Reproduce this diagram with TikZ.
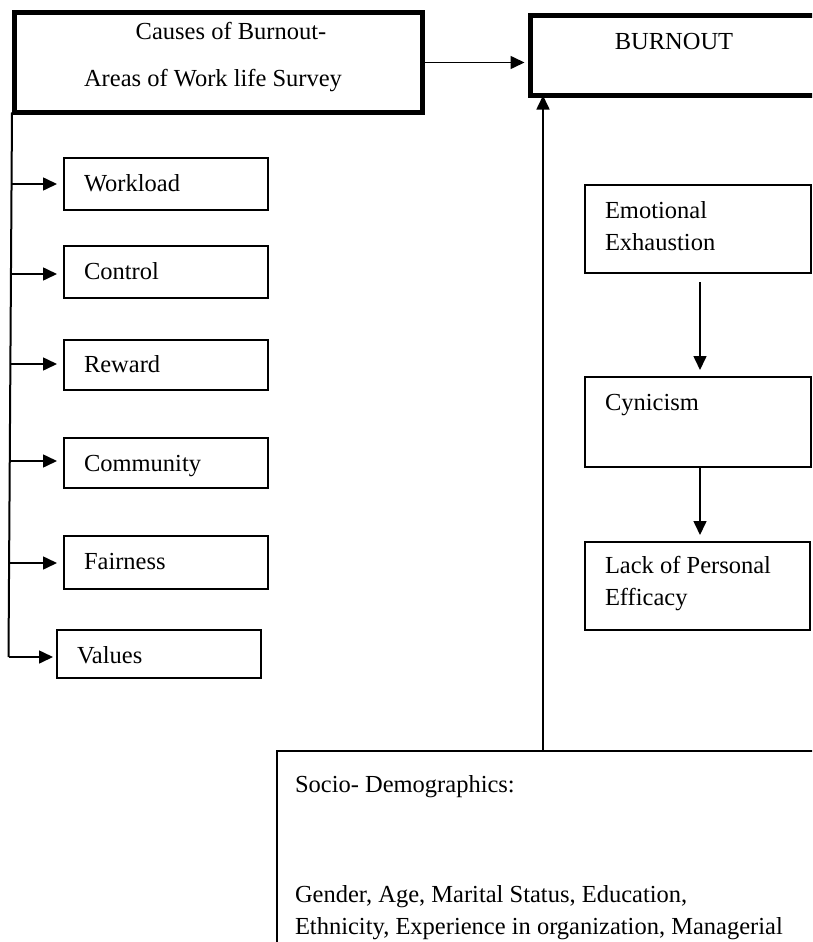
\documentclass[tikz,border=0pt]{standalone}
\usepackage{fontspec}
\setmainfont{Liberation Serif}
\usetikzlibrary{arrows.meta}
\begin{document}
\begin{tikzpicture}[x=1pt,y=-1pt,
  box/.style={draw,line width=1.5pt,anchor=north west,outer sep=0pt,inner sep=0pt},
  thickbox/.style={box,line width=5pt},
  txt/.style={inner sep=0pt,outer sep=0pt,font=\fontsize{24.5pt}{32pt}\selectfont},
  conn/.style={line width=1.6pt,-{Triangle[length=14pt,width=13pt]}},
  spine/.style={line width=2pt}]
\useasboundingbox (0,0) rectangle (812,942);
\clip (0,0) rectangle (812,942);
% top boxes
\node[thickbox,minimum width=408pt,minimum height=100pt] (tl) at (14,12.5) {};
\node[txt,anchor=base] (tl1) at (231,40) {Causes of Burnout-};
\node[txt,anchor=base] (tl2) at (213,86) {Areas of Work life Survey};
\node[thickbox,minimum width=320pt,minimum height=80pt] (bo) at (530.5,15.5) {};
\node[txt,anchor=base] (bot) at (674,50) {BURNOUT};
\draw[conn,shorten >=6pt] (tl.east) -- (tl.east -| bo.west);
% left column
\node[box,minimum width=204pt,minimum height=52pt] (wl) at (64,158) {};
\node[box,minimum width=204pt,minimum height=52pt] (co) at (64,246) {};
\node[box,minimum width=204pt,minimum height=50pt] (re) at (64,340) {};
\node[box,minimum width=204pt,minimum height=50pt] (cm) at (64,438) {};
\node[box,minimum width=204pt,minimum height=53pt] (fa) at (64,536) {};
\node[box,minimum width=204pt,minimum height=48pt] (va) at (57,630) {};
\node[txt,anchor=base west] (wlt) at (84,191) {Workload};
\node[txt,anchor=base west] (cot) at (84,279) {Control};
\node[txt,anchor=base west] (ret) at (84,372) {Reward};
\node[txt,anchor=base west] (cmt) at (84,471) {Community};
\node[txt,anchor=base west] (fat) at (84,569) {Fairness};
\node[txt,anchor=base west] (vat) at (77,663) {Values};
\coordinate (sTop) at (12,112.5);
\coordinate (sBot) at (8.5,657);
\draw[spine] (sTop) -- (sBot);
\coordinate (s1) at (11.5,184);
\coordinate (s2) at (10.8,274);
\coordinate (s3) at (10.2,364);
\coordinate (s4) at (9.4,461);
\coordinate (s5) at (8.7,563);
\draw[conn,shorten >=7pt] (s1) -- (s1 -| wl.west);
\draw[conn,shorten >=7pt] (s2) -- (s2 -| co.west);
\draw[conn,shorten >=7pt] (s3) -- (s3 -| re.west);
\draw[conn,shorten >=7pt] (s4) -- (s4 -| cm.west);
\draw[conn,shorten >=7pt] (s5) -- (s5 -| fa.west);
\draw[conn,shorten >=4pt] (sBot) -- (sBot -| va.west);
% right column
\node[box,minimum width=226pt,minimum height=88pt] (ee) at (585,185) {};
\node[box,minimum width=226pt,minimum height=90pt] (cy) at (585,377) {};
\node[box,minimum width=225pt,minimum height=88pt] (lp) at (585,542) {};
\node[txt,anchor=base west] (ee1) at (605,218) {Emotional};
\node[txt,anchor=base west] (ee2) at (605,250) {Exhaustion};
\node[txt,anchor=base west] (cyt) at (605,410) {Cynicism};
\node[txt,anchor=base west] (lp1) at (605,573) {Lack of Personal};
\node[txt,anchor=base west] (lp2) at (605,605) {Efficacy};
\coordinate (d1) at (700,282);
\draw[conn,shorten >=7pt] (d1) -- (d1 |- cy.north);
\coordinate (d2) at (700,467);
\draw[conn,shorten >=7pt] (d2) -- (d2 |- lp.north);
% bottom box
\node[box,minimum width=560pt,minimum height=220pt] (sd) at (277,751) {};
\node[txt,anchor=base west] (sd1) at (295,792) {Socio- Demographics:};
\node[txt,anchor=base west] (sd2) at (295,902) {Gender, Age, Marital Status, Education,};
\node[txt,anchor=base west] (sd3) at (295,934) {Ethnicity, Experience in organization, Managerial};
\coordinate (up) at (543,751);
\draw[conn] (up) -- (up |- bo.south);
\end{tikzpicture}
\end{document}
